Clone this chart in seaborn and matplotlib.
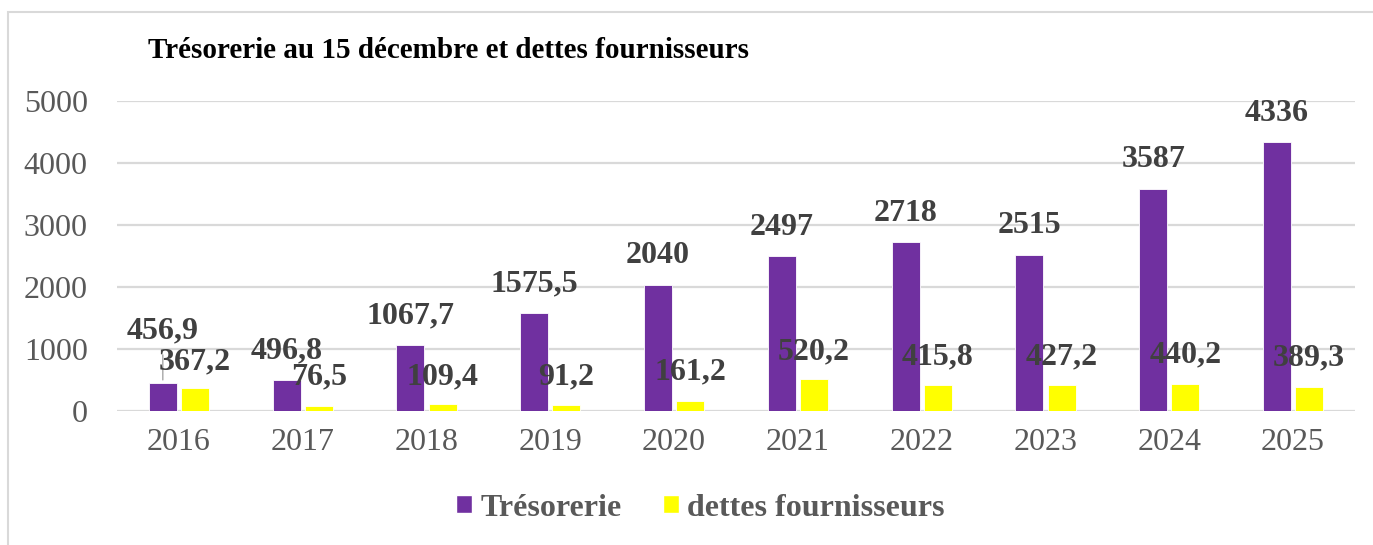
import pandas as pd
import matplotlib.pyplot as plt
import seaborn as sns
from matplotlib.patches import Rectangle, Patch

# --- données ---
annees = ['2016', '2017', '2018', '2019', '2020', '2021', '2022', '2023', '2024', '2025']
tresorerie = [456.9, 496.8, 1067.7, 1575.5, 2040, 2497, 2718, 2515, 3587, 4336]
dettes = [367.2, 76.5, 109.4, 91.2, 161.2, 520.2, 415.8, 427.2, 440.2, 389.3]
series = ['Trésorerie', 'dettes fournisseurs']

# hauteur des étiquettes (placement manuel comme dans Excel)
dettes_label_y = [790, 548, 548, 548, 629, 952, 871, 871, 903, 855]

violet = '#7030A0'
jaune = '#FFFF00'
gris_texte = '#595959'
gris_label = '#404040'
gris_grille = '#D9D9D9'

df = pd.DataFrame({
    'annee': annees * 2,
    'valeur': tresorerie + dettes,
    'serie': [series[0]] * len(annees) + [series[1]] * len(annees),
})


def fmt(v):
    if float(v).is_integer():
        return str(int(v))
    return f'{v:.1f}'.replace('.', ',')


sns.set_style('white')
plt.rcParams['font.family'] = ['Liberation Serif', 'DejaVu Serif']

fig = plt.figure(figsize=(13.73, 5.45), dpi=100)
ax = fig.add_axes([117 / 1373, 1 - 411 / 545, (1355 - 117) / 1373, (411 - 101) / 545])

sns.barplot(data=df, x='annee', y='valeur', hue='serie', palette=[violet, jaune],
            saturation=1, width=0.52, gap=0.13, errorbar=None, edgecolor='white',
            linewidth=0.6, ax=ax, legend=False, zorder=3)

ax.set_ylim(0, 5000)
ax.set_yticks(range(0, 5001, 1000))
ax.yaxis.grid(True, color=gris_grille, linewidth=1.6, zorder=0)
ax.set_axisbelow(True)
for s in ax.spines.values():
    s.set_visible(False)
ax.set_xlabel('')
ax.set_ylabel('')
ax.tick_params(axis='y', length=0, pad=21, labelsize=23, labelcolor=gris_texte)
ax.tick_params(axis='x', length=0, pad=12, labelsize=23, labelcolor=gris_texte)

# étiquettes Trésorerie
for i, bar in enumerate(ax.containers[0]):
    x = bar.get_x() + bar.get_width() / 2
    h = bar.get_height()
    dy = 21 if i > 0 else 37
    ax.annotate(fmt(tresorerie[i]), (x, h), xytext=(0, dy), textcoords='offset points',
                ha='center', va='center', fontsize=23, fontweight='bold', color=gris_label)
    if i == 0:
        ax.annotate('', (x, h), xytext=(0, 22), textcoords='offset points',
                    arrowprops=dict(arrowstyle='-', color='#A6A6A6', lw=1))

# étiquettes dettes
for i, bar in enumerate(ax.containers[1]):
    x = bar.get_x() + bar.get_width() / 2
    ax.text(x, dettes_label_y[i], fmt(dettes[i]), ha='center', va='center',
            fontsize=23, fontweight='bold', color=gris_label, zorder=4)

fig.text(148 / 1373, 1 - 50 / 545, 'Trésorerie au 15 décembre et dettes fournisseurs',
         ha='left', va='center', fontsize=21, fontweight='bold', color='black')

handles = [Patch(facecolor=violet), Patch(facecolor=jaune)]
leg = fig.legend(handles, series, loc='center', bbox_to_anchor=(0.51, 1 - 508 / 545),
                 ncol=2, frameon=False, handlelength=0.5, handleheight=0.5,
                 handletextpad=0.25, columnspacing=1.3,
                 prop={'family': 'Liberation Serif', 'weight': 'bold', 'size': 23})
for t in leg.get_texts():
    t.set_color(gris_texte)

# cadre du graphique
fig.patches.append(Rectangle((8 / 1373, -0.1), 1.1, 1 - 12 / 545 + 0.1,
                             transform=fig.transFigure, fill=False,
                             edgecolor=gris_grille, linewidth=1.5))

plt.savefig('out.png', dpi=100)
